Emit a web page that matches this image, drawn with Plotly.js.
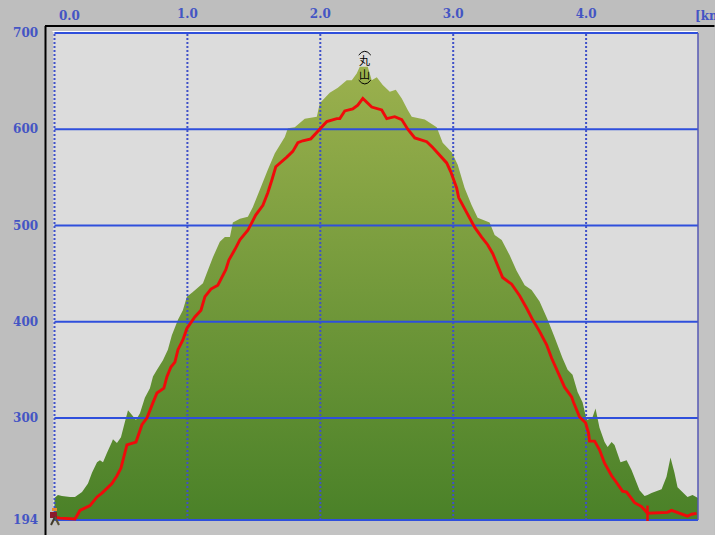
<!DOCTYPE html>
<html>
<head>
<meta charset="utf-8">
<script src="https://cdn.plot.ly/plotly-3.0.1.min.js"></script>
<style>html,body{margin:0;padding:0;background:#bebebe;overflow:hidden}</style>
</head>
<body>
<div id="chart" style="width:715px;height:535px"></div>
<script>
const terrainKm = [0,.026,.056,.117,.154,.207,.252,.282,.320,.342,.365,.395,.432,.440,.470,.500,.530,.553,.583,.613,.643,.680,.718,.741,.771,.816,.853,.883,.929,.966,.996,1.041,1.117,1.147,1.192,1.244,1.282,1.320,1.342,1.395,1.455,1.492,1.545,1.605,1.658,1.733,1.756,1.808,1.883,1.974,1.996,2.071,2.132,2.199,2.237,2.274,2.297,2.357,2.387,2.425,2.470,2.523,2.568,2.613,2.658,2.688,2.786,2.876,2.921,2.989,3.034,3.086,3.139,3.184,3.274,3.312,3.365,3.425,3.477,3.538,3.590,3.650,3.711,3.763,3.823,3.861,3.898,3.936,3.974,4.004,4.026,4.049,4.071,4.101,4.139,4.162,4.192,4.214,4.259,4.305,4.342,4.402,4.440,4.462,4.492,4.568,4.605,4.635,4.665,4.688,4.763,4.801,4.842];
const terrainElev = [217,220,219,218,218,223,232,243,254,256,254,264,275,278,274,280,296,308,303,298,305,321,331,343,350,360,371,386,402,412,426,431,440,451,467,483,488,488,503,507,509,519,537,558,575,592,601,602,611,613,627,638,643,651,651,658,665,665,651,654,646,639,641,632,620,613,610,602,586,576,563,539,521,508,503,490,485,469,453,438,433,421,402,384,362,350,345,327,316,298,299,301,310,290,275,270,275,272,254,256,246,225,219,220,222,226,239,259,243,228,218,220,217];
const routeKm = [0,.041,.154,.192,.267,.320,.357,.432,.470,.500,.545,.613,.658,.695,.741,.771,.823,.846,.876,.906,.929,.966,.996,1.056,1.102,1.132,1.177,1.229,1.289,1.312,1.357,1.395,1.455,1.515,1.568,1.605,1.635,1.665,1.748,1.793,1.831,1.868,1.929,1.996,2.049,2.124,2.147,2.184,2.244,2.282,2.320,2.387,2.462,2.500,2.560,2.613,2.658,2.711,2.801,2.846,2.898,2.951,2.981,3.004,3.026,3.041,3.086,3.124,3.162,3.214,3.259,3.297,3.335,3.372,3.440,3.500,3.553,3.598,3.650,3.703,3.741,3.771,3.801,3.838,3.891,3.906,3.951,3.996,4.019,4.026,4.064,4.101,4.139,4.192,4.229,4.274,4.305,4.365,4.417,4.462,4.613,4.643,4.763,4.793,4.831];
const routeElev = [197,196,195,204,209,218,222,232,240,248,272,275,293,300,316,326,331,343,353,358,371,381,393,405,412,426,434,438,454,464,475,485,495,511,521,534,547,561,571,577,586,588,590,600,608,611,611,619,621,625,632,623,620,611,613,610,600,591,587,581,573,565,556,547,539,529,518,508,498,488,480,471,459,446,439,427,414,402,390,376,362,353,343,332,322,316,301,295,284,276,276,267,253,240,233,224,223,212,208,201,202,204,198,200,201];
const kmTicks = [0,1,2,3,4];
const kmLabels = ['', '1.0', '2.0', '3.0', '4.0'];
const elevTicks = [194,300,400,500,600,700];
const elevLabels = ['194','300','400','500','600','700'];
const waypointKm = [4.462];
const waypointElev = [201];
const summitKm = 2.335;
const summitElev = 664.5;
const summitLabel = '丸<br>山';

const xMin = -0.0113, xMax = 4.842, yMin = 193, yMax = 701;
const blue = '#2f4fdc', textBlue = '#4455c4';
const labelFont = {family: 'DejaVu Serif', size: 12, weight: 'bold', color: textBlue};

const hGrid = {
  x: elevTicks.flatMap(() => [0, xMax, null]),
  y: elevTicks.flatMap(v => [v, v, null]),
  mode: 'lines', line: {color: blue, width: 2}, hoverinfo: 'skip'
};
const vGrid = {
  x: kmTicks.flatMap(v => [v, v, null]),
  y: kmTicks.flatMap(() => [194, 700, null]),
  mode: 'lines', line: {color: '#3f50c8', width: 2, dash: '2px,2px'}, hoverinfo: 'skip'
};
const terrain = {
  x: terrainKm, y: terrainElev, mode: 'none', fill: 'tozeroy',
  fillgradient: {type: 'vertical', start: 194, stop: 670,
    colorscale: [[0, '#4a8128'], [1, '#9cb14e']]},
  hoverinfo: 'skip'
};
const route = {
  x: routeKm, y: routeElev, mode: 'lines',
  line: {color: '#f00a0a', width: 2.9}, hoverinfo: 'skip'
};
const waypoint = {
  x: waypointKm, y: waypointElev, mode: 'markers',
  marker: {symbol: 'line-ns', size: 11, line: {color: '#f00a0a', width: 2.5}}, hoverinfo: 'skip'
};

const W = 645.5, H = 489;
const px = v => (v - 53) / W;
const py = v => 1 - (v - 32) / H;
const rectPx = (x0, y0, x1, y1, color, layer) => ({
  type: 'rect', layer: layer || 'above', xref: 'paper', yref: 'paper',
  x0: px(x0), x1: px(x1), y0: py(y0), y1: py(y1), fillcolor: color, line: {width: 0}
});
const linePx = (x0, y0, x1, y1, color, width, layer) => ({
  type: 'line', layer: layer || 'above', xref: 'paper', yref: 'paper',
  x0: px(x0), x1: px(x1), y0: py(y0), y1: py(y1), line: {color, width}
});
const layout = {
  width: 715, height: 535,
  margin: {l: 53, r: 16.5, t: 32, b: 14, pad: 0},
  paper_bgcolor: '#bebebe', plot_bgcolor: '#dcdcdc',
  showlegend: false,
  xaxis: {
    range: [xMin, xMax], side: 'top', tickmode: 'array', tickvals: kmTicks, ticktext: kmLabels,
    showgrid: false, zeroline: false, showline: false, ticks: 'outside', ticklen: 8,
    tickcolor: 'rgba(0,0,0,0)', tickfont: labelFont, fixedrange: true
  },
  yaxis: {
    range: [yMin, yMax], tickmode: 'array', tickvals: elevTicks, ticktext: elevLabels,
    showgrid: false, zeroline: false, showline: false, ticks: 'outside', ticklen: 11.5,
    tickcolor: 'rgba(0,0,0,0)', tickfont: labelFont, fixedrange: true
  },
  annotations: [
    {xref: 'x', yref: 'paper', x: 0, y: py(16), yanchor: 'middle', xshift: 14.5, text: '0.0', showarrow: false, font: labelFont},
    {xref: 'paper', yref: 'paper', x: px(693), y: py(16), yanchor: 'middle', xanchor: 'left', text: '[km]', showarrow: false, font: labelFont},
    {xref: 'x', yref: 'y', x: summitKm, y: summitElev, yanchor: 'middle', text: summitLabel, showarrow: false,
     font: {family: 'Noto Sans CJK JP', size: 11, color: '#000'}}
  ],
  shapes: [
    rectPx(46, 27, 715, 535, '#c3c3c3', 'below'),
    rectPx(53, 32, 698.5, 521, '#dcdcdc', 'below'),
    linePx(45.5, 26, 45.5, 535, '#000', 2, 'below'),
    linePx(45, 26, 715, 26, '#000', 2, 'below'),
    linePx(52.5, 31.5, 698, 31.5, '#fff', 1, 'below'),
    linePx(698.5, 33, 698.5, 520, '#5658b4', 1.5),
    {type: 'path', layer: 'above', xref: 'x', yref: 'y',
     path: 'M 2.289 677 Q 2.335 685 2.38 677', line: {color: '#000', width: 1}},
    {type: 'path', layer: 'above', xref: 'x', yref: 'y',
     path: 'M 2.289 651 Q 2.335 643 2.38 651', line: {color: '#000', width: 1}},
    /* small hiker figure at the start of the route */
    rectPx(52, 508, 57, 511, '#e88a30'),
    rectPx(50, 512, 57, 518, '#8c1a2c'),
    linePx(55, 517, 51, 525, '#3f3828', 2),
    linePx(55, 517, 59, 525, '#5a5038', 2)
  ]
};
Plotly.newPlot('chart', [terrain, hGrid, vGrid, route, waypoint], layout,
  {staticPlot: true, displayModeBar: false});
</script>
</body>
</html>
